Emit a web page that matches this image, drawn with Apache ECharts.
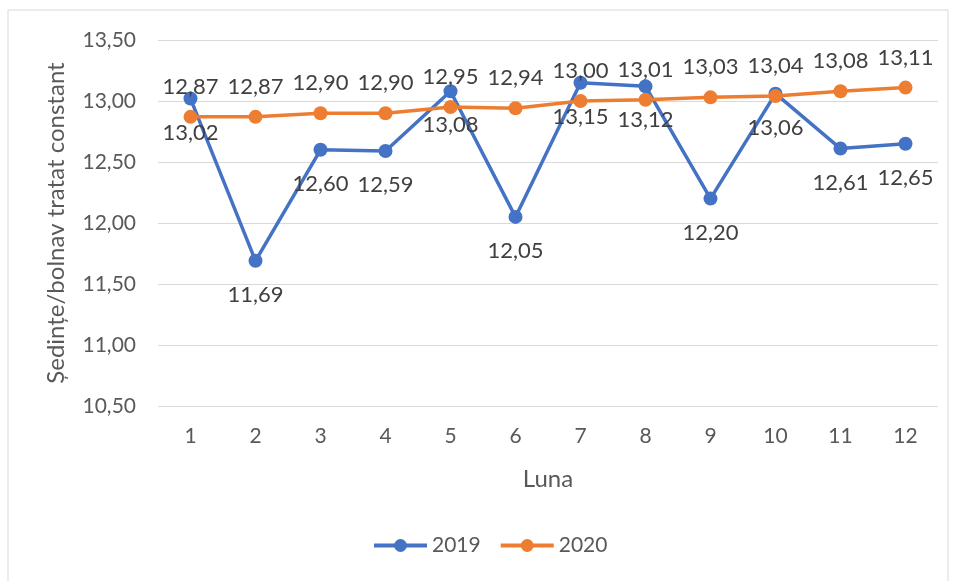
<!DOCTYPE html>
<html>
<head>
<meta charset="utf-8">
<script src="https://cdn.jsdelivr.net/npm/echarts@6/dist/echarts.min.js"></script>
<style>
  html, body { margin: 0; padding: 0; background: #fff; }
  #chart { width: 956px; height: 581px; }
</style>
</head>
<body>
<div id="chart"></div>
<script>
// luni
var months = ['1', '2', '3', '4', '5', '6', '7', '8', '9', '10', '11', '12'];
var seriesNames = ['2019', '2020'];
var data2019 = [13.02, 11.69, 12.60, 12.59, 13.08, 12.05, 13.15, 13.12, 12.20, 13.06, 12.61, 12.65];
var data2020 = [12.87, 12.87, 12.90, 12.90, 12.95, 12.94, 13.00, 13.01, 13.03, 13.04, 13.08, 13.11];
var yTicks = [10.5, 11, 11.5, 12, 12.5, 13, 13.5];

var font = 'Lato, "Noto Sans", sans-serif';
var txt = '#595959';

function fmt(v) {
    return v.toFixed(2).replace('.', ',');
}

var myChart = echarts.init(document.getElementById('chart'));
var option = {
    backgroundColor: '#fff',
    textStyle: { fontFamily: font },
    graphic: [{
        type: 'rect',
        shape: { x: 8, y: 10, width: 940, height: 590 },
        style: { fill: 'none', stroke: '#d9d9d9', lineWidth: 1 },
        silent: true
    }],
    grid: { left: 158, right: 18, top: 40, bottom: 175 },
    legend: {
        data: seriesNames,
        bottom: 20,
        left: 367,
        itemWidth: 53,
        itemHeight: 16,
        itemGap: 18,
        lineStyle: { width: 4 },
        textStyle: { color: txt, fontSize: 21, fontFamily: font }
    },
    xAxis: {
        type: 'category',
        data: months,
        boundaryGap: true,
        name: 'Luna',
        nameLocation: 'middle',
        nameGap: 61,
        nameTextStyle: { color: txt, fontSize: 24, fontFamily: font },
        axisLine: { show: false },
        axisTick: { show: false },
        axisLabel: { color: txt, fontSize: 21, margin: 20, fontFamily: font }
    },
    yAxis: {
        type: 'value',
        min: yTicks[0],
        max: yTicks[yTicks.length - 1],
        interval: 0.5,
        name: 'Ședințe/bolnav tratat constant',
        nameLocation: 'middle',
        nameGap: 90,
        nameTextStyle: { color: txt, fontSize: 24, fontFamily: font },
        axisLine: { show: false },
        axisTick: { show: false },
        axisLabel: { color: txt, fontSize: 21, margin: 22, fontFamily: font, formatter: function (v) { return fmt(v); } },
        splitLine: { lineStyle: { color: '#d9d9d9', width: 1 } }
    },
    series: [
        {
            name: seriesNames[0],
            type: 'line',
            data: data2019,
            color: '#4472C4',
            symbol: 'circle',
            symbolSize: 14,
            lineStyle: { width: 3.5 },
            label: {
                show: true,
                position: 'bottom',
                distance: 16,
                color: '#404040',
                fontSize: 22,
                fontFamily: font,
                formatter: function (p) { return fmt(p.value); }
            },
            z: 2
        },
        {
            name: seriesNames[1],
            type: 'line',
            data: data2020,
            color: '#ED7D31',
            symbol: 'circle',
            symbolSize: 14,
            lineStyle: { width: 3.5 },
            label: {
                show: true,
                position: 'top',
                distance: 12,
                color: '#404040',
                fontSize: 22,
                fontFamily: font,
                formatter: function (p) { return fmt(p.value); }
            },
            z: 3
        }
    ]
};
myChart.setOption(option);
</script>
</body>
</html>
